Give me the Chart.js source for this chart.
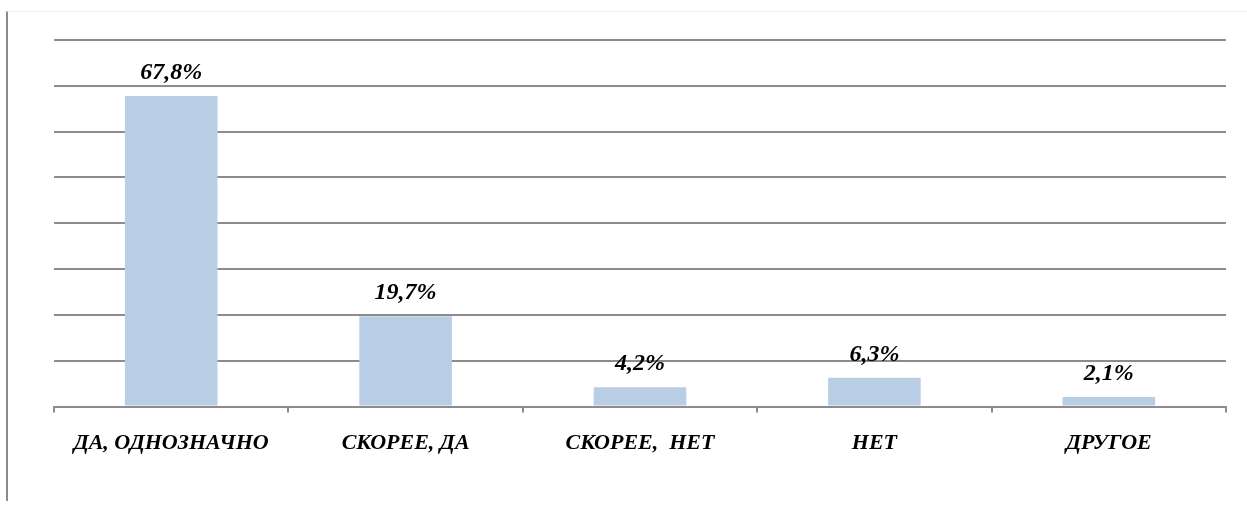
<!DOCTYPE html>
<html lang="ru">
<head>
    <meta charset="UTF-8">
    <title>Опрос</title>
    <script src="https://cdn.jsdelivr.net/npm/chart.js"></script>
    <style>
        html, body { margin: 0; padding: 0; background: #fff; }
        .wrap { position: relative; width: 1247px; height: 506px; }
        .frame { position: absolute; left: 6px; top: 11px; width: 1241px; height: 490px;
                 border-left: 2px solid #8c8c8c; border-top: 1px solid #f0f0f0; box-sizing: border-box; }
        canvas { position: absolute; left: 0; top: 0; }
    </style>
</head>
<body>
    <div class="wrap">
        <div class="frame"></div>
        <canvas id="chart" width="1247" height="506"></canvas>
    </div>

    <script>
        const categories = ['ДА, ОДНОЗНАЧНО', 'СКОРЕЕ, ДА', 'СКОРЕЕ,  НЕТ', 'НЕТ', 'ДРУГОЕ'];
        const values = [67.8, 19.7, 4.2, 6.3, 2.1];
        const valueLabels = ['67,8%', '19,7%', '4,2%', '6,3%', '2,1%'];

        const fontFamily = '"Liberation Serif", "Times New Roman", serif';

        // подписи значений над столбцами
        const valueLabelPlugin = {
            id: 'valueLabels',
            afterDatasetsDraw(chart) {
                const ctx = chart.ctx;
                const meta = chart.getDatasetMeta(0);
                ctx.save();
                ctx.font = 'italic bold 24px ' + fontFamily;
                ctx.fillStyle = '#000';
                ctx.textAlign = 'center';
                ctx.textBaseline = 'alphabetic';
                meta.data.forEach((bar, i) => {
                    ctx.fillText(valueLabels[i], bar.x, bar.y - 17);
                });
                ctx.restore();
            }
        };

        new Chart(document.getElementById('chart'), {
            type: 'bar',
            data: {
                labels: categories,
                datasets: [{
                    data: values,
                    backgroundColor: '#b9cde5',
                    borderWidth: 0,
                    categoryPercentage: 1,
                    barPercentage: 0.395
                }]
            },
            options: {
                responsive: false,
                animation: false,
                layout: { padding: { left: 54, right: 21, top: 40, bottom: 31 } },
                plugins: { legend: { display: false }, tooltip: { enabled: false } },
                scales: {
                    y: {
                        min: 0, max: 80,
                        ticks: { display: false, stepSize: 10 },
                        grid: { color: '#8c8c8c', lineWidth: 2, drawTicks: false },
                        border: { display: false },
                        afterFit(scale) { scale.width = 0; }
                    },
                    x: {
                        grid: { drawOnChartArea: false, drawTicks: true, tickLength: 6, color: '#8c8c8c', lineWidth: 2, offset: true },
                        border: { color: '#8c8c8c', width: 2 },
                        ticks: {
                            color: '#000',
                            padding: 18,
                            font: { family: fontFamily, size: 22, style: 'italic', weight: 'bold' }
                        }
                    }
                }
            },
            plugins: [valueLabelPlugin]
        });
    </script>
</body>
</html>
